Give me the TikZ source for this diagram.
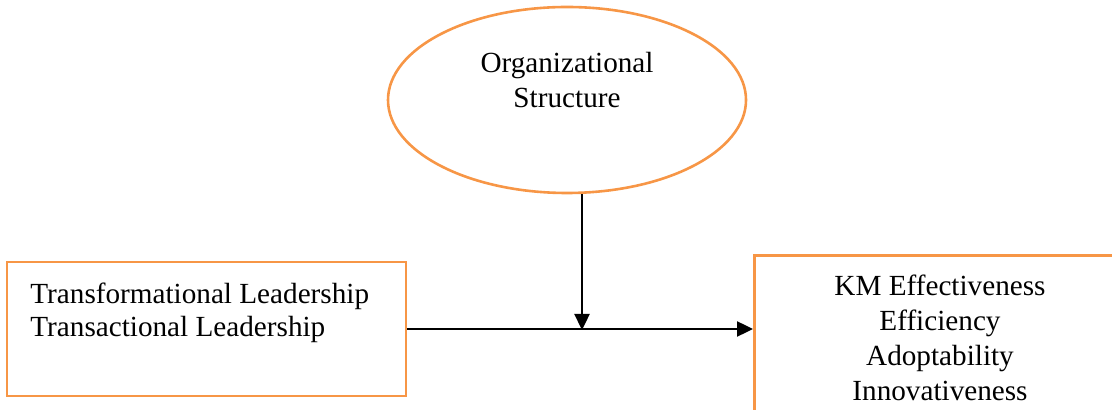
\documentclass[tikz,border=0pt]{standalone}
\usepackage{fontspec}
\setmainfont{Liberation Serif}
\usetikzlibrary{shapes.geometric,arrows.meta}
\definecolor{org}{RGB}{247,150,70}
\begin{document}
\begin{tikzpicture}[x=0.5pt,y=-0.5pt,
  box/.style={draw=org,line width=1.3pt,rectangle,inner sep=0pt},
  conn/.style={line width=1.2pt,-{Triangle[length=8pt,width=7.5pt]}},
  txt/.style={font=\fontsize{14.6}{16.5}\selectfont,inner sep=0pt}]
\useasboundingbox (0,0) rectangle (1112,410);
\clip (0,0) rectangle (1112,410);
\node[draw=org,line width=1.3pt,ellipse,minimum width=179pt,minimum height=93pt,inner sep=0pt] (os) at (567,100) {};
\node[txt,align=center,font=\fontsize{14.6}{17.5}\selectfont] (ost) at (567,80) {Organizational\\Structure};
\node[box,minimum width=199.5pt,minimum height=67pt] (lb) at (206.5,329) {};
\node[txt,align=left,anchor=west] (lbt) at (30,313) {Transformational Leadership\\Transactional Leadership};
\node[box,anchor=north west,minimum width=200pt,minimum height=120pt] (rb) at (753,254) {};
\node[txt,align=center,font=\fontsize{14.6}{17.5}\selectfont] (rbt) at (940,338) {KM Effectiveness\\Efficiency\\Adoptability\\Innovativeness};
\coordinate (j) at (582,330);
\draw[conn] (os.south -| j) -- (j);
\draw[conn] (lb.east) -- (lb.east -| rb.west);
\end{tikzpicture}
\end{document}
